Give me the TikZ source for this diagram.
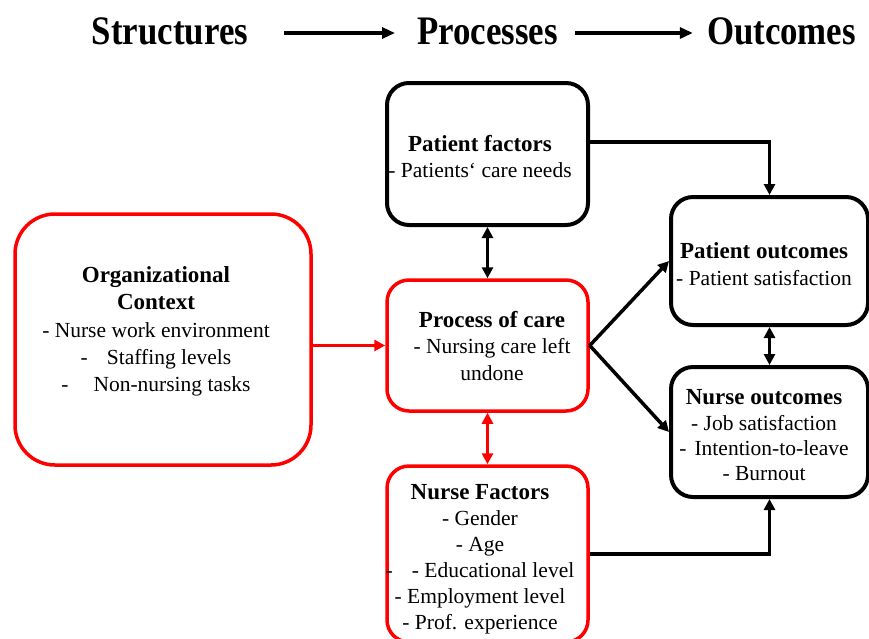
\documentclass[tikz,border=0pt]{standalone}
\usepackage{fontspec}
\setmainfont{Liberation Serif}
\newfontfamily\titlefont[FakeStretch=0.86]{Liberation Serif}
\usetikzlibrary{arrows.meta,calc}
\definecolor{boxred}{RGB}{255,0,0}
\tikzset{
  box/.style={draw=black, line width=4pt, rounded corners=22pt, inner sep=0pt, fill=white},
  redbox/.style={box, draw=boxred, line width=3.5pt},
  txt/.style={align=center, inner sep=0pt, font=\fontsize{21.5}{26}\selectfont},
  ttl/.style={inner sep=0pt, font=\titlefont\bfseries\fontsize{40.5}{44}\selectfont},
  arr/.style={line width=3.5pt, -{Triangle[length=11pt,width=11pt]}},
  darr/.style={line width=3.5pt, {Triangle[length=11pt,width=11pt]}-{Triangle[length=11pt,width=11pt]}},
  tarr/.style={line width=3.2pt, -{Triangle[length=13pt,width=11pt]}}
}
\newcommand{\hd}{\bfseries\fontsize{23}{26}\selectfont}
\begin{document}
\begin{tikzpicture}[x=1pt,y=-1pt]
\useasboundingbox (0,0) rectangle (869,638);
\clip (0,0) rectangle (869,638);
% titles
\node[ttl] (t1) at (170,31) {Structures};
\node[ttl] (t2) at (487.5,31) {Processes};
\node[ttl] (t3) at (781.5,31) {Outcomes};
\draw[tarr, shorten <=36pt, shorten >=22pt] ($(t1.east)+(0,2)$) -- ($(t2.west)+(0,2)$);
\draw[tarr, shorten <=17pt, shorten >=14pt] ($(t2.east)+(0,2)$) -- ($(t3.west)+(0,2)$);
% boxes
\node[box, minimum width=201pt, minimum height=142pt] (pf) at (487.5,154) {};
\node[redbox, rounded corners=40pt, minimum width=296pt, minimum height=251pt] (org) at (163,339.5) {};
\node[redbox, minimum width=201pt, minimum height=131pt] (pc) at (487.5,345.5) {};
\node[redbox, minimum width=201pt, minimum height=176pt] (nf) at (487.5,554) {};
\node[box, minimum width=197pt, minimum height=128pt] (po) at (769.5,261) {};
\node[box, minimum width=197pt, minimum height=130pt] (no) at (769.5,432) {};
% texts
\node[txt] (pft) at (480,157) {{\hd Patient factors}\\- Patients‘ care needs};
\node[txt, font=\fontsize{21.5}{27.2}\selectfont] (orgt) at (156,331.5) {{\hd Organizational}\\{\hd Context}\\- Nurse work environment\\-\hspace{19pt}Staffing levels\\-\hspace{25pt}Non-nursing tasks};
\node[txt, font=\fontsize{21.5}{26.5}\selectfont] (pct) at (492,345.5) {{\hd Process of care}\\- Nursing care left\\undone};
\node[txt, font=\fontsize{21.5}{27}\selectfont] (pot) at (764,264) {{\hd Patient outcomes}\\- Patient satisfaction};
\node[txt, font=\fontsize{21.5}{25.3}\selectfont] (not) at (764,435.5) {{\hd Nurse outcomes}\\- Job satisfaction\\-\hspace{8pt}Intention-to-leave\\- Burnout};
\node[txt] (nft) at (480,559) {{\hd Nurse Factors}\\- Gender\\- Age\\-\hspace{19pt}- Educational level\\- Employment level\\- Prof. experience};
% connectors
\draw[arr] ($(pf.east)+(0,-12)$) -| (po.north);
\draw[darr] (pf.south) -- (pc.north);
\draw[darr, draw=boxred, fill=boxred] (pc.south) -- (nf.north);
\draw[arr, draw=boxred, fill=boxred, line width=3pt] (org.east |- pc.west) -- (pc.west);
\draw[arr] (pc.east) -- (po.west);
\draw[arr] (pc.east) -- (no.west);
\draw[darr] (po.south) -- (no.north);
\draw[arr] (nf.east) -| (no.south);
\end{tikzpicture}
\end{document}
